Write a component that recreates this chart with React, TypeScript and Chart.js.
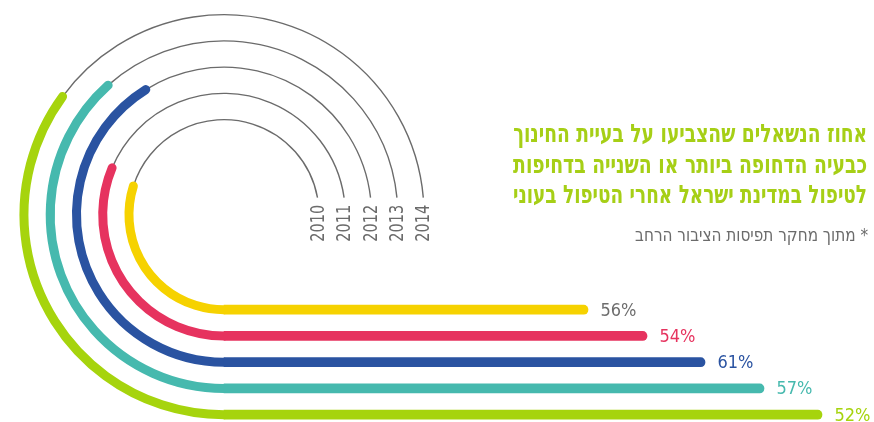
import React, { useEffect, useLayoutEffect, useRef } from "react";
import { Chart, registerables } from "chart.js";

Chart.register(...registerables);

// ---- data ----
const years = ["2010", "2011", "2012", "2013", "2014"];
const percentLabels = ["56%", "54%", "61%", "57%", "52%"];
const barLengths = [364, 423, 481, 540, 598];
const arcStartDeg = [17.5, 22.7, 58, 48.2, 36.2];
const titleLines = [
  "אחוז הנשאלים שהצביעו על בעיית החינוך",
  "כבעיה הדחופה ביותר או השנייה בדחיפות",
  "לטיפול במדינת ישראל אחרי הטיפול בעוני",
];
const subtitle = "* מתוך מחקר תפיסות הציבור הרחב";

// ---- styles ----
const barColors = ["#f6d200", "#e6335f", "#2a53a1", "#46b9ae", "#a6d40d"];
const labelColors = ["#6d6d6d", "#e6335f", "#2a53a1", "#46b9ae", "#a6d40d"];
const GRAY = "#6b6b6b";
const GREEN_TITLE = "#a6cf16";
const HUB_STEPS = 3.62; // distance from hub to first ring, in row steps
const LINE_RISE = 17; // gray arcs end this many px above the hub
const FONT_NARROW = '"Liberation Sans Narrow", "DejaVu Sans Condensed", "Liberation Sans", sans-serif';
const FONT_HEB = '"DejaVu Sans Condensed", "DejaVu Sans", sans-serif';

const arcsPlugin = {
  id: "arcsPlugin",
  beforeDatasetsDraw(chart: any) {
    const ctx = chart.ctx as CanvasRenderingContext2D;
    const yScale = chart.scales.y;
    const step = yScale.getPixelForValue(1) - yScale.getPixelForValue(0);
    const cy = yScale.getPixelForValue(0) - HUB_STEPS * step;
    const meta = chart.getDatasetMeta(0);
    meta.data.forEach((bar: any, i: number) => {
      const p = bar.getProps(["x", "y", "base"], true);
      const cx = p.base;
      const r = p.y - cy;
      const a0 = Math.PI + (arcStartDeg[i] * Math.PI) / 180;
      const aEnd = 2 * Math.PI - Math.asin(LINE_RISE / r);
      ctx.save();
      ctx.beginPath();
      ctx.strokeStyle = GRAY;
      ctx.lineWidth = 1.4;
      ctx.lineCap = "butt";
      ctx.arc(cx, cy, r, a0, aEnd, false);
      ctx.stroke();
      ctx.beginPath();
      ctx.strokeStyle = barColors[i];
      ctx.lineWidth = 9;
      ctx.lineCap = "round";
      ctx.arc(cx, cy, r, a0, Math.PI / 2, true);
      ctx.stroke();
      ctx.translate(cx + r, cy - LINE_RISE + 7);
      ctx.rotate(-Math.PI / 2);
      ctx.fillStyle = GRAY;
      ctx.font = `19.5px ${FONT_NARROW}`;
      ctx.textAlign = "right";
      ctx.textBaseline = "middle";
      ctx.fillText(years[i], 0, 0, 37);
      ctx.restore();
    });
  },
  afterDatasetsDraw(chart: any) {
    const ctx = chart.ctx as CanvasRenderingContext2D;
    const meta = chart.getDatasetMeta(0);
    ctx.save();
    meta.data.forEach((bar: any, i: number) => {
      const p = bar.getProps(["x", "y"], true);
      ctx.fillStyle = labelColors[i];
      ctx.font = `18.5px ${FONT_NARROW}`;
      ctx.textAlign = "left";
      ctx.textBaseline = "middle";
      ctx.fillText(percentLabels[i], p.x + 12.5, p.y + 1, 36);
    });
    ctx.restore();
  },
};

function FitLine(props: { text: string; width: number; right: number; top: number; style: any }) {
  const ref = useRef<HTMLSpanElement | null>(null);
  useLayoutEffect(() => {
    const el = ref.current;
    if (!el) return;
    el.style.transform = "none";
    const w = el.getBoundingClientRect().width;
    if (w > 0) el.style.transform = `scaleX(${props.width / w})`;
  }, [props.text, props.width]);
  return (
    <span
      ref={ref}
      dir="rtl"
      style={{
        position: "absolute",
        right: props.right,
        top: props.top,
        display: "inline-block",
        whiteSpace: "nowrap",
        transformOrigin: "right center",
        ...props.style,
      }}
    >
      {props.text}
    </span>
  );
}

export default function App() {
  const ref = useRef<HTMLCanvasElement | null>(null);
  useEffect(() => {
    if (!ref.current) return;
    const chart = new Chart(ref.current, {
      type: "bar",
      data: {
        labels: years,
        datasets: [
          {
            data: barLengths,
            backgroundColor: barColors,
            borderSkipped: "start",
            borderRadius: 4.5,
            barThickness: 9,
            clip: false,
          },
        ],
      },
      options: {
        indexAxis: "y",
        responsive: false,
        animation: false,
        devicePixelRatio: 1,
        layout: { padding: { top: 309.7, bottom: 7.3, left: 0, right: 0 } },
        scales: {
          x: { type: "linear", display: false, min: -224, max: 650 },
          y: { type: "category", display: false, offset: false },
        },
        plugins: {
          legend: { display: false },
          tooltip: { enabled: false },
          title: { display: false },
        },
      },
      plugins: [arcsPlugin],
    } as any);
    return () => chart.destroy();
  }, []);

  const titleSize = 25;
  const titleBaselines = [142, 173, 203.5];
  const titleStyle = {
    fontFamily: FONT_HEB,
    fontWeight: "bold",
    fontSize: titleSize,
    lineHeight: `${titleSize}px`,
    color: GREEN_TITLE,
  };
  const subSize = 18;
  const subStyle = {
    fontFamily: FONT_HEB,
    fontWeight: "normal",
    fontSize: subSize,
    lineHeight: `${subSize}px`,
    color: GRAY,
  };
  return (
    <div style={{ position: "absolute", left: 0, top: 0, width: 874, height: 422, background: "#fff", overflow: "hidden" }}>
      <canvas ref={ref} width={874} height={422} style={{ display: "block" }} />
      {titleLines.map((t, i) => (
        <FitLine key={i} text={t} width={354} right={7} top={titleBaselines[i] - 0.846 * titleSize} style={titleStyle} />
      ))}
      <FitLine text={subtitle} width={233} right={6} top={241.5 - 0.846 * subSize} style={subStyle} />
    </div>
  );
}
